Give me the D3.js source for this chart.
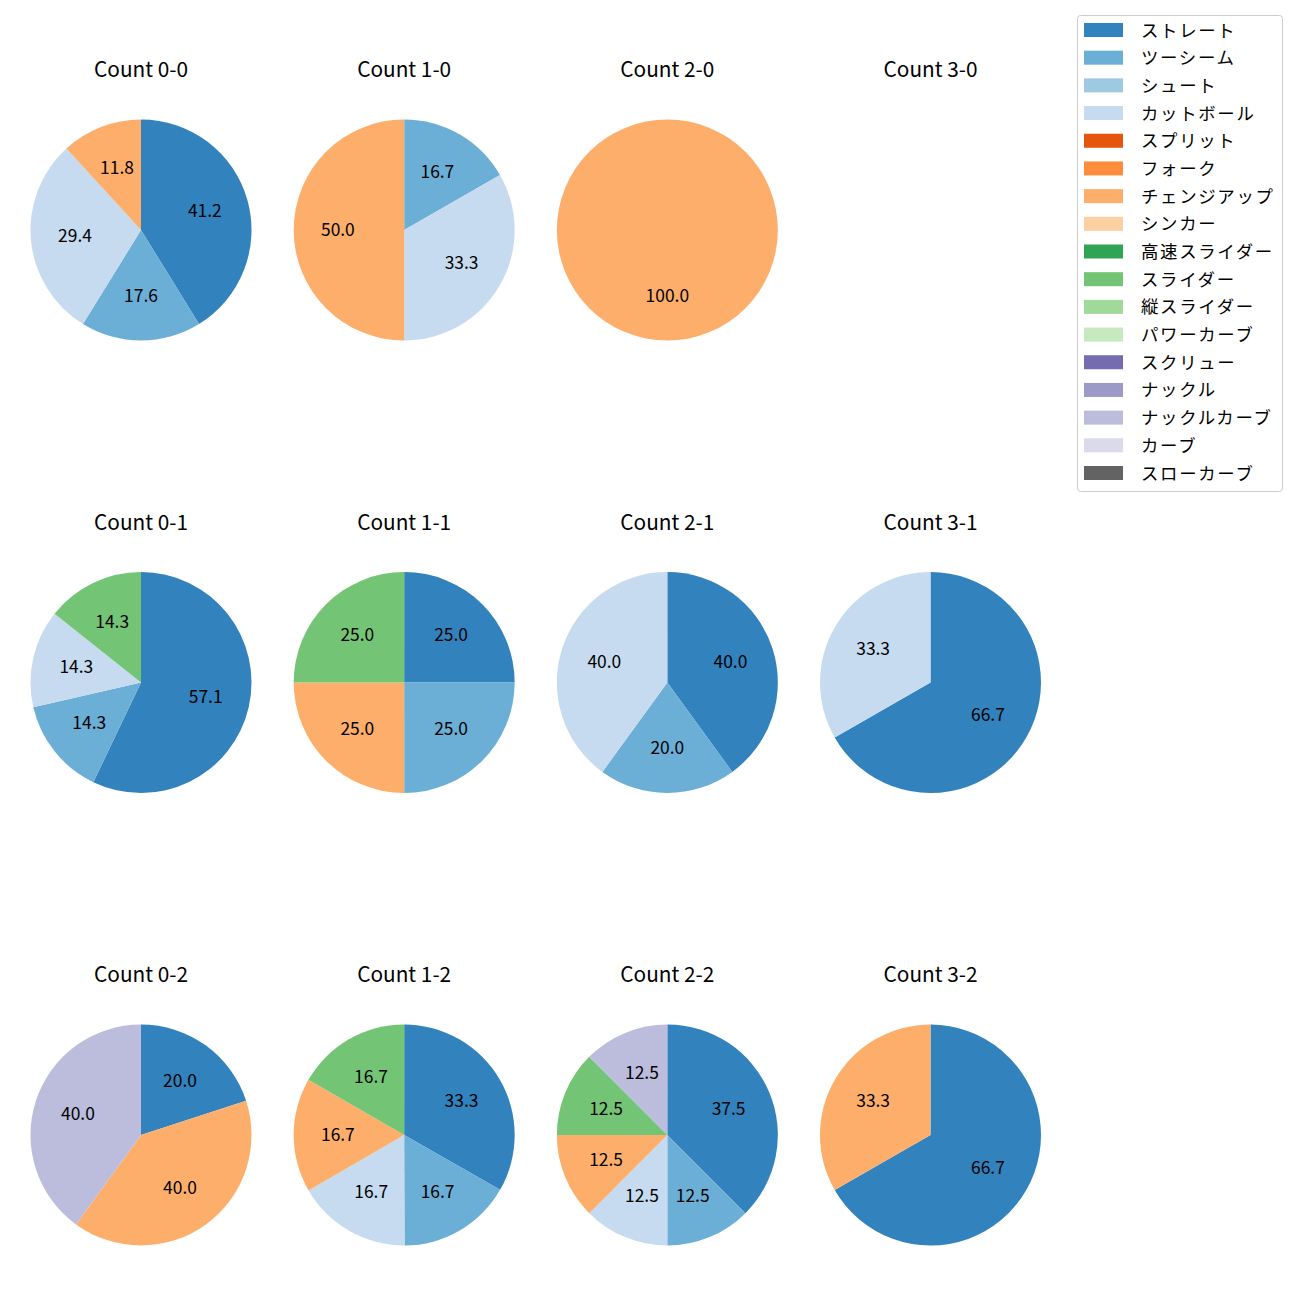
<!DOCTYPE html>
<html>
<head>
<meta charset="utf-8">
<script src="https://cdn.jsdelivr.net/npm/d3@7"></script>
<style>
  html, body { margin: 0; padding: 0; background: #fff; }
  svg { display: block; }
  text { font-family: "Noto Sans CJK JP", "Noto Sans", sans-serif; }
</style>
</head>
<body>
<svg id="chart" width="1300" height="1300"></svg>
<script>
// Pitch types (legend order) and colours
const pitchTypes = ["ストレート","ツーシーム","シュート","カットボール","スプリット","フォーク","チェンジアップ","シンカー","高速スライダー","スライダー","縦スライダー","パワーカーブ","スクリュー","ナックル","ナックルカーブ","カーブ","スローカーブ"];
const pitchColors = ["#3182bd","#6baed6","#9ecae1","#c6dbef","#e6550d","#fd8d3c","#fdae6b","#fdd0a2","#31a354","#74c476","#a1d99b","#c7e9c0","#756bb1","#9e9ac8","#bcbddc","#dadaeb","#636363"];

// Count titles (rows: strikes 0..2, columns: balls 0..3)
const countTitles = [
  "Count 0-0","Count 1-0","Count 2-0","Count 3-0",
  "Count 0-1","Count 1-1","Count 2-1","Count 3-1",
  "Count 0-2","Count 1-2","Count 2-2","Count 3-2"
];

// Shares (%) per pitch type, in pitchTypes order
//           St    2S   Sh  Cut  Sp Fk  Ch   Si HS  Sl   VS PC Sc Kn  KC  Cv SC
const c00 = [41.2, 17.6, 0, 29.4, 0, 0, 11.8, 0, 0, 0,    0, 0, 0, 0, 0,    0, 0];
const c10 = [0,    16.7, 0, 33.3, 0, 0, 50.0, 0, 0, 0,    0, 0, 0, 0, 0,    0, 0];
const c20 = [0,    0,    0, 0,    0, 0, 100,  0, 0, 0,    0, 0, 0, 0, 0,    0, 0];
const c30 = [];
const c01 = [57.1, 14.3, 0, 14.3, 0, 0, 0,    0, 0, 14.3, 0, 0, 0, 0, 0,    0, 0];
const c11 = [25.0, 25.0, 0, 0,    0, 0, 25.0, 0, 0, 25.0, 0, 0, 0, 0, 0,    0, 0];
const c21 = [40.0, 20.0, 0, 40.0, 0, 0, 0,    0, 0, 0,    0, 0, 0, 0, 0,    0, 0];
const c31 = [66.7, 0,    0, 33.3, 0, 0, 0,    0, 0, 0,    0, 0, 0, 0, 0,    0, 0];
const c02 = [20.0, 0,    0, 0,    0, 0, 40.0, 0, 0, 0,    0, 0, 0, 0, 40.0, 0, 0];
const c12 = [33.3, 16.7, 0, 16.7, 0, 0, 16.7, 0, 0, 16.7, 0, 0, 0, 0, 0,    0, 0];
const c22 = [37.5, 12.5, 0, 12.5, 0, 0, 12.5, 0, 0, 12.5, 0, 0, 0, 0, 12.5, 0, 0];
const c32 = [66.7, 0,    0, 0,    0, 0, 33.3, 0, 0, 0,    0, 0, 0, 0, 0,    0, 0];
const countValues = [c00,c10,c20,c30,c01,c11,c21,c31,c02,c12,c22,c32];

const svg = d3.select("#chart");

const colX = d3.scalePoint().domain([0,1,2,3]).range([141, 930.5]);
const rowY = d3.scalePoint().domain([0,1,2]).range([230, 1135]);
const radius = 110.5;
const color = d3.scaleOrdinal().domain(pitchTypes).range(pitchColors);

const pie = d3.pie()
  .value(d => d.v)
  .sort(null)
  .startAngle(0)
  .endAngle(2 * Math.PI);
const arc = d3.arc().innerRadius(0).outerRadius(radius);
const labelArc = d3.arc().innerRadius(radius * 0.6).outerRadius(radius * 0.6);

countTitles.forEach((title, i) => {
  const col = i % 4, row = Math.floor(i / 4);
  const g = svg.append("g")
    .attr("transform", `translate(${colX(col)},${rowY(row)})`);

  g.append("text")
    .attr("x", 0)
    .attr("y", -162)
    .attr("text-anchor", "middle")
    .attr("dominant-baseline", "central")
    .attr("font-size", 20.8)
    .attr("fill", "#000")
    .text(title);

  const vals = countValues[i];
  const data = pitchTypes.map((p, k) => ({ p, v: vals[k] || 0 })).filter(d => d.v > 0);
  if (!data.length) return;
  const total = d3.sum(data, d => d.v);
  const arcs = pie(data);

  g.selectAll("path.wedge").data(arcs).join("path")
    .attr("class", "wedge")
    .attr("d", arc)
    .attr("fill", d => color(d.data.p));

  g.selectAll("text.lbl").data(arcs).join("text")
    .attr("class", "lbl")
    .attr("transform", d => `translate(${labelArc.centroid(d)})`)
    .attr("dy", -2)
    .attr("text-anchor", "middle")
    .attr("dominant-baseline", "central")
    .attr("font-size", 17.4)
    .attr("fill", "#000")
    .text(d => (d.data.v / total * 100).toFixed(1));
});

// Legend
const legend = svg.append("g");
legend.append("rect")
  .attr("x", 1077.5).attr("y", 15.5)
  .attr("width", 205).attr("height", 476)
  .attr("rx", 3).attr("ry", 3)
  .attr("fill", "#fff").attr("fill-opacity", 0.8)
  .attr("stroke", "#cccccc").attr("stroke-width", 1);

const legY = d3.scalePoint().domain(pitchTypes).range([30, 473]);
const items = legend.selectAll("g.item").data(pitchTypes).join("g")
  .attr("class", "item")
  .attr("transform", d => `translate(0,${legY(d)})`);
items.append("rect")
  .attr("x", 1084).attr("y", -7)
  .attr("width", 39).attr("height", 14)
  .attr("fill", d => color(d));
items.append("text")
  .attr("x", 1141).attr("y", -1)
  .attr("dominant-baseline", "central")
  .attr("font-size", 17.4)
  .attr("letter-spacing", 1.7)
  .attr("fill", "#000")
  .text(d => d);
</script>
</body>
</html>
